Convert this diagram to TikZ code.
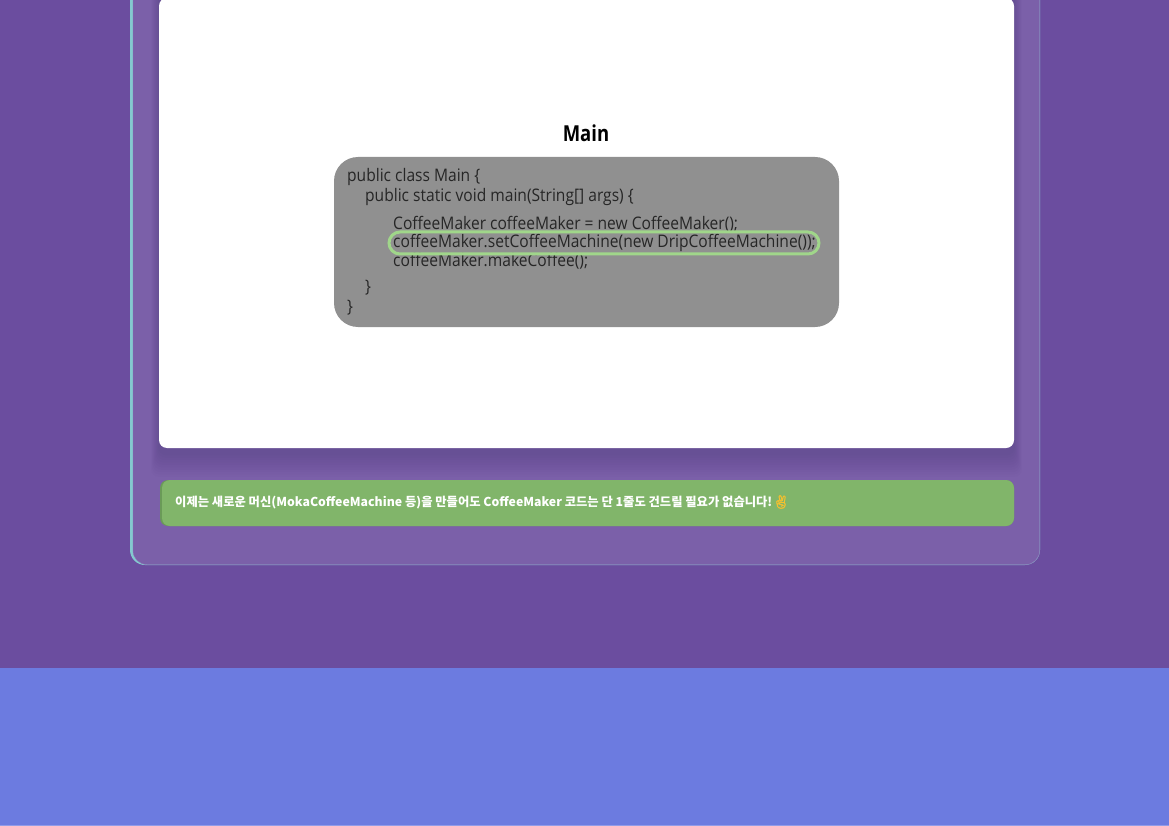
\documentclass[tikz,border=0pt]{standalone}
\usepackage{fontspec}
\setmainfont{Open Sans}
\newfontfamily\krfont{Noto Sans CJK KR}
\newfontfamily\emojifont[FakeBold=2.5]{Noto Emoji}
\newfontfamily\narrowfont[FakeStretch=0.9]{Open Sans}
\newfontfamily\titlefont[FakeStretch=0.84]{Open Sans}
\usepackage{tikz}
\usetikzlibrary{positioning}
\definecolor{bgpurple}{HTML}{6B4D9F}
\definecolor{panelpurple}{HTML}{7B60A9}
\definecolor{panelline}{HTML}{8B73B6}
\definecolor{bandblue}{HTML}{6C7BE0}
\definecolor{tealbar}{HTML}{84C9CF}
\definecolor{notegreen}{HTML}{81B56A}
\definecolor{notebar}{HTML}{6A9A58}
\definecolor{codegrey}{HTML}{909090}
\definecolor{ringgreen}{HTML}{A0D68A}
\definecolor{handgold}{HTML}{F5C02E}
\tikzstyle{codeline}=[anchor=west, inner sep=0, font=\narrowfont\fontsize{17.3}{20}\selectfont\color{black!85}]
\tikzstyle{notetext}=[anchor=west, inner sep=0, text=white, font=\krfont\bfseries\fontsize{12.3}{15}\selectfont]

\begin{document}
\begin{tikzpicture}[x=1pt, y=-1pt]
        \useasboundingbox (0,0) rectangle (1169,826);
        \fill[bgpurple] (0,0) rectangle (1169,668);
        \fill[bandblue] (0,668) rectangle (1169,826);
        \fill[bandblue!75!white] (0,825) rectangle (1169,826);

        % panel
        \begin{scope}
            \clip (0,0) rectangle (1169,826);
            \fill[tealbar, rounded corners=15pt] (130,-40) rectangle (1040,565);
            \draw[panelline, fill=panelpurple, rounded corners=14pt] (133,-40) rectangle (1039.5,564.5);
            % soft shadow of the card
            \foreach \d in {2,4,...,20}
                \fill[black, opacity=0.012, rounded corners=8pt]
                    (159-\d*0.4,-10) rectangle (1014+\d*0.4,448+5+\d*1.2);
            \fill[white, rounded corners=8pt] (159,-2) rectangle (1014,448);
        \end{scope}

        \node[font=\titlefont\bfseries\fontsize{22}{26}\selectfont] (title) at (586,133) {Main};
        \fill[codegrey, rounded corners=24pt] (334,157) rectangle (839,327);

        \node[codeline] (line1) at (347,177) {public class Main \{};
        \node[codeline] (line2) at (365,197) {public static void main(String[] args) \{};
        \node[codeline] (line3) at (393,224) {CoffeeMaker coffeeMaker = new CoffeeMaker();};
        \node[codeline] (line4) at (393,243) {coffeeMaker.setCoffeeMachine(new DripCoffeeMachine());};
        \node[codeline] (line5) at (393,261) {coffeeMaker.makeCoffee();};
        \node[codeline] (line6) at (365,288) {\}};
        \node[codeline] (line7) at (347,308) {\}};
        \draw[ringgreen, line width=3pt, rounded corners=11pt] (389,232) rectangle (819,254);

        % note
        \fill[notebar, rounded corners=8pt] (160,480) rectangle (1014,526);
        \fill[notegreen, rounded corners=8pt] (162,480) rectangle (1014,526);
        \node[notetext] (note) at (175,503) {이제는 새로운 머신(MokaCoffeeMachine 등)을 만들어도 CoffeeMaker 코드는 단 1줄도 건드릴 필요가 없습니다!};
        \node[right=0pt of note, inner sep=0, yshift=1pt, text=handgold, font=\emojifont\fontsize{13}{15}\selectfont] (hand) {✌};
    \end{tikzpicture}
\end{document}
